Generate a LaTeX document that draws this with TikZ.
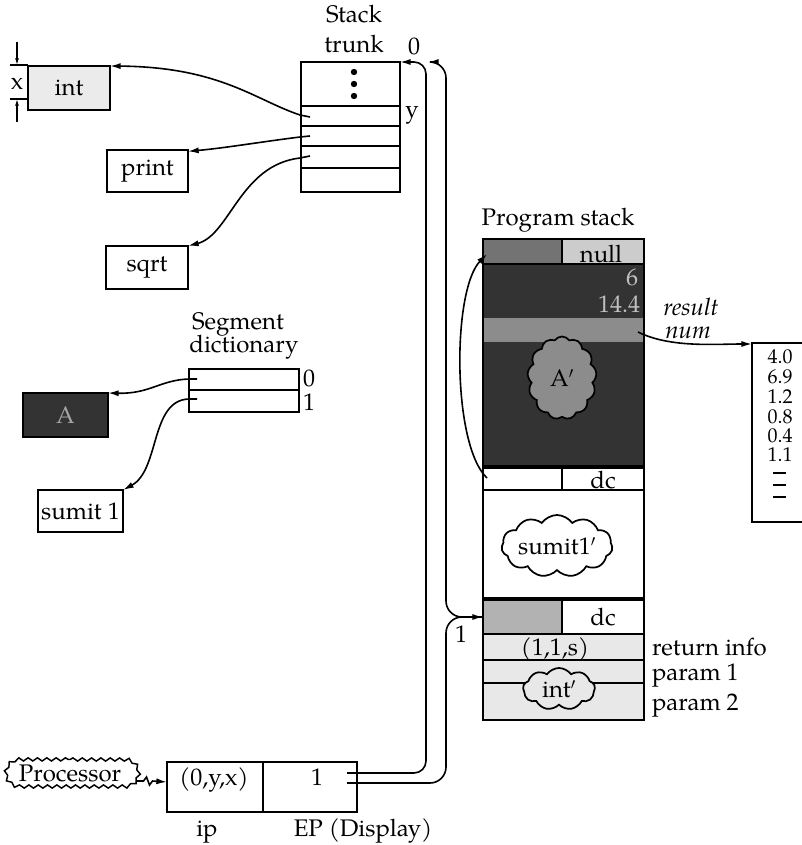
\documentclass[tikz,border=0pt]{standalone}
\usepackage{fontspec}
\setmainfont{TeX Gyre Pagella}
\usetikzlibrary{shapes.symbols,shapes.geometric,shapes.misc,decorations.pathmorphing,arrows.meta,calc}
\begin{document}
\begin{tikzpicture}[x=0.75pt,y=-0.75pt,
 every node/.style={font=\fontsize{18}{21}\selectfont, inner sep=0pt, outer sep=0pt},
 sz/.style 2 args={minimum width=#1*0.75pt, minimum height=#2*0.75pt},
 box/.style={draw, line width=1.6pt},
 conn/.style={line width=1.2pt, -{Latex[length=8pt,width=4.6pt]}},
 plain/.style={line width=1.1pt},
 divider/.style={line width=1.2pt},
 thickdiv/.style={line width=2.4pt},
 puff/.style={draw, line width=1.3pt, cloud, cloud puffs=#1, cloud puff arc=110, cloud ignores aspect},
 lab/.style={anchor=base},
 numlab/.style={anchor=base, font=\fontsize{15}{17}\selectfont}]
\useasboundingbox (0,0) rectangle (802,845);

% ---------- shading of program stack ----------
\fill[black!80] (483,239) rectangle (644,467);
\fill[black!55] (483,239) rectangle (644,264);
\fill[black!20] (562,239) rectangle (644,264);
\fill[black!45] (483,318) rectangle (644,342);
\fill[black!30] (483,599) rectangle (562,634);
\fill[black!9] (483,634) rectangle (644,720);

% ---------- Stack trunk ----------
\node[box, sz={99}{130}] (trunk) at (350.5,127) {};
\foreach \yy in {106,126,146,168} \draw[divider] (301,\yy) -- (400,\yy);
\foreach \yy in {72,84,96} \fill (354,\yy) circle[radius=2.4pt];
\node[lab] (stk1) at (354,23) {Stack};
\node[lab] (stk2) at (354,53) {trunk};
\node[lab] (zero) at (414,55) {0};
\node[lab] (ylab) at (412,118) {y};

% ---------- function boxes ----------
\node[box, sz={82}{44}, fill=black!8] (int) at (69,88) {int};
\node[box, sz={81}{42}] (print) at (147.5,171) {print};
\node[box, sz={82}{43}] (sqrt) at (147,267.5) {sqrt};

% dimension x
\draw[plain] (10,65) -- (28,65);
\draw[plain] (10,99) -- (28,99);
\draw[line width=0.9pt, -{Latex[length=5pt,width=3pt]}] (17,42) -- (17,65);
\draw[line width=0.9pt, -{Latex[length=5pt,width=3pt]}] (17,122) -- (17,99);
\node[lab] (xlab) at (17,90) {x};

\coordinate (t1) at (310,117);
\coordinate (t2) at (310,136);
\coordinate (t3) at (310,156);
\draw[conn] (t1) -- (300,115) .. controls (255,100) and (220,67) .. (int.north east);
\draw[conn] (t2) -- (300,137) .. controls (260,142) and (225,148) .. ([yshift=-1pt]print.north east);
\draw[conn] (t3) -- (300,158) .. controls (240,165) and (230,235) .. (sqrt.north east);

% ---------- Segment dictionary ----------
\node[lab] (seg1) at (238,329) {Segment};
\node[lab] (seg2) at (244,352) {dictionary};
\node[box, sz={110}{43}] (segd) at (244,390.5) {};
\draw[divider] (189,390) -- (299,390);
\node[lab] (sd0) at (309,386) {0};
\node[lab] (sd1) at (309,410) {1};
\node[box, sz={85}{44}, fill=black!80, text=black!35] (A) at (65.5,415) {A};
\node[box, sz={85}{42}] (sumit) at (80.5,511) {sumit 1};
\coordinate (s0) at (197,379);
\coordinate (s1) at (197,399);
\draw[conn] (s0) -- (189,379) .. controls (160,380) and (150,394) .. (A.north east);
\draw[conn] (s1) -- (189,399) .. controls (150,400) and (160,470) .. (sumit.north east);

% ---------- Program stack ----------
\node[lab] (pslabel) at (558,225) {Program stack};
\node[box, sz={161}{481}] (pstack) at (563.5,479.5) {};
\draw[divider] (483,264) -- (644,264);
\draw[divider] (562,239) -- (562,264);
\draw[thickdiv] (483,467) -- (644,467);
\draw[divider] (562,467) -- (562,490);
\draw[divider] (483,490) -- (644,490);
\draw[thickdiv] (483,599) -- (644,599);
\draw[divider] (562,599) -- (562,634);
\draw[divider] (483,634) -- (644,634);
\draw[divider] (483,660) -- (644,660);
\draw[divider] (483,683) -- (644,683);

\node[lab] (null) at (601,262) {null};
\node[lab, text=black!25] (six) at (632,285) {6};
\node[lab, text=black!25] (fourteen) at (619,312) {14.4};
\node[puff=13, fill=black!45, sz={69}{83}] (Aprime) at (562,378) {A$'$};
\node[lab] (dc1) at (603,488) {dc};
\node[puff=11, fill=white, sz={111}{62}] (sumitp) at (557,546) {sumit1$'$};
\node[lab] (dc2) at (603,625) {dc};
\node[lab] (ret) at (555,655) {(1,1,s)};
\node[puff=9, fill=black!9, sz={72}{42}] (intp) at (559,689) {int$'$};
\node[lab, anchor=base west] (retinfo) at (652,655) {return info};
\node[lab, anchor=base west] (par1) at (652,680) {param 1};
\node[lab, anchor=base west] (par2) at (652,710) {param 2};

\coordinate (dcl) at (487,478);
\coordinate (nl) at (487,254);
\draw[conn] (dcl) .. controls (452,445) and (452,290) .. (nl);

% result num array
\node[lab] (res) at (691,315) {\textit{result}};
\node[lab] (num) at (688,338) {\textit{num}};
\coordinate (rs) at (638,332);
\coordinate (arr) at (752,344);
\draw[line width=1.6pt] (806,343) -- (752,343) -- (752,522) -- (806,522);
\draw[conn] (rs) .. controls (670,348) and (715,344) .. (arr);
\node[numlab] (n1) at (780,363) {4.0};
\node[numlab] (n2) at (780,383) {6.9};
\node[numlab] (n3) at (780,403) {1.2};
\node[numlab] (n4) at (780,423) {0.8};
\node[numlab] (n5) at (780,442) {0.4};
\node[numlab] (n6) at (780,461) {1.1};
\foreach \yy in {473,485,497} \draw[line width=1pt] (773,\yy) -- (786,\yy);

% ---------- Processor and display ----------
\node[draw, line width=1.1pt, rounded rectangle, decorate,
      decoration={snake, amplitude=1.2pt, segment length=7pt}, sz={133}{27}] (proc) at (70,773) {Processor};
\node[box, sz={190}{50}] (ep) at (262,787) {};
\draw[divider] (263,762) -- (263,812);
\node[lab] (ipval) at (214,785) {(0,y,x)};
\node[lab] (epval) at (317,785) {1};
\node[lab] (iplab) at (207,836) {ip};
\node[lab] (eplab) at (363,836) {EP (Display)};
\coordinate (epin) at (167,782);
\draw[conn] ([yshift=-6pt]proc.east) -- ++(7,0) -- ++(3,-4) -- ++(3,8) -- ++(3,-4) -- (epin);

% ---------- long links ----------
\coordinate (ep1) at (347,773);
\coordinate (ep2) at (347,783);
\coordinate (cA) at (426,62);
\coordinate (cB) at (446,62);
\coordinate (tipB) at (428,62);
\coordinate (fr) at (483,617);
\coordinate (cC) at (446,617);
\draw[conn, rounded corners=9pt] (ep1) -| (cA) -- (trunk.north east);
\draw[conn, rounded corners=12pt] (fr) -| (cB) -- (tipB);
\draw[conn, rounded corners=12pt] (ep2) -| (cC) -- (fr);
\node[lab] (one) at (461,642) {1};
\end{tikzpicture}
\end{document}
